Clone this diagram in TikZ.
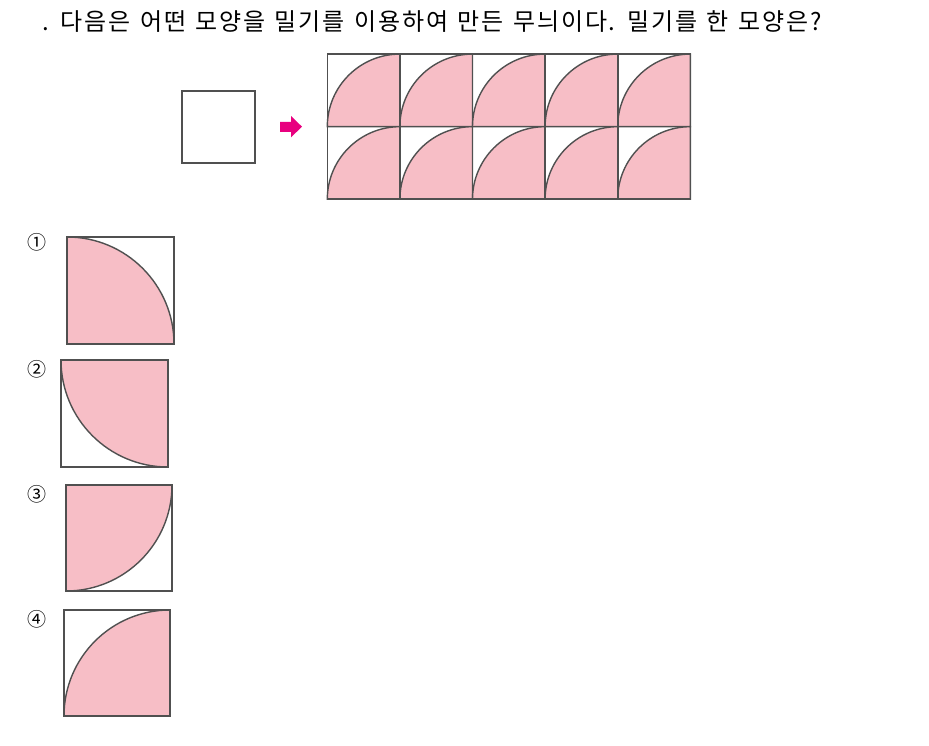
\documentclass[tikz,border=0pt]{standalone}
\usepackage{fontspec}
\setmainfont{Noto Sans CJK KR}
\newfontfamily\qfont[LetterSpace=7.8,WordSpace=1.3]{Noto Sans CJK KR}
\definecolor{tilepink}{RGB}{247,190,198}
\definecolor{edgegray}{RGB}{80,80,80}
\definecolor{pushpink}{RGB}{232,0,127}
\tikzset{
  frame/.style={draw=edgegray, line width=1.6pt},
  petal/.style={fill=tilepink, draw=edgegray, line width=1.4pt},
  qtext/.style={anchor=base west, inner sep=0pt, font=\qfont\fontsize{24}{28}\selectfont},
  numtext/.style={inner sep=0pt, font=\fontsize{19}{22}\selectfont},
}
\begin{document}
\begin{tikzpicture}[x=1pt,y=-1pt]
  \useasboundingbox (0,0) rectangle (929,746);
  \node[qtext] (question) at (42,31) {. 다음은 어떤 모양을 밀기를 이용하여 만든 무늬이다. 밀기를 한 모양은?};

  \draw[frame] (182,91) rectangle (255,163);
  \fill[pushpink] (280,122) -- (291,122) -- (291,116) -- (302,126.7) -- (291,137.3) -- (291,132) -- (280,132) -- cycle;

  \foreach \c in {0,...,4} {
    \foreach \r in {0,1} {
      \path[petal] ({327.3+72.6*\c},{126.7+72.6*\r}) arc[start angle=180, end angle=270, radius=72.6] -- ({399.9+72.6*\c},{126.7+72.6*\r}) -- cycle;
      \draw[frame] ({327.3+72.6*\c},{54+72.6*\r}) rectangle +(72.6,72.6);
    }
  }

  \node[numtext] (n1) at (37,242) {①};
  \node[numtext] (n2) at (37,369) {②};
  \node[numtext] (n3) at (37,494) {③};
  \node[numtext] (n4) at (37,619) {④};

  \path[petal] (67,344) -- (67,237) arc[start angle=270, end angle=360, radius=107] -- cycle;
  \draw[frame] (67,237) rectangle (174,344);
  \path[petal] (168,360) -- (61,360) arc[start angle=180, end angle=90, radius=107] -- cycle;
  \draw[frame] (61,360) rectangle (168,467);
  \path[petal] (66,485) -- (66,591) arc[start angle=90, end angle=0, radius=106] -- cycle;
  \draw[frame] (66,485) rectangle (172,591);
  \path[petal] (170,716) -- (64,716) arc[start angle=180, end angle=270, radius=106] -- cycle;
  \draw[frame] (64,610) rectangle (170,716);
\end{tikzpicture}
\end{document}
